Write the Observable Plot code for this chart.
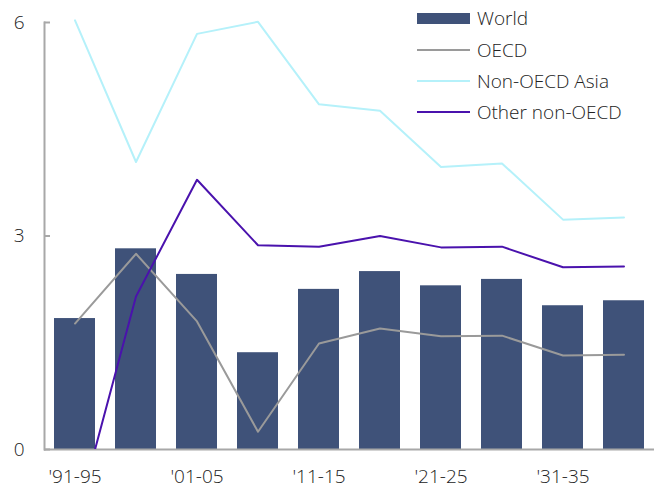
<!DOCTYPE html>
<html>
<head>
<meta charset="utf-8">
<script src="https://cdn.jsdelivr.net/npm/d3@7"></script>
<script src="https://cdn.jsdelivr.net/npm/@observablehq/plot@0.6"></script>
<style>
  html, body { margin: 0; padding: 0; background: #fff; }
  #wrap { position: relative; width: 654px; height: 488px; font-family: "Open Sans", "Noto Sans", sans-serif; font-weight: 300; }
  #legend { position: absolute; left: 417px; top: 0; font-size: 19px; color: #222; }
  .item { position: absolute; left: 0; height: 20px; white-space: nowrap; }
  .item .sw { position: absolute; left: 0; width: 53px; }
  .item .lbl { position: absolute; left: 60px; top: -12px; line-height: 24px; }
  svg text { font-weight: 300; }
</style>
</head>
<body>
<div id="wrap"></div>
<script>
const periods = ["'91-95","'96-00","'01-05","'06-10","'11-15","'16-20","'21-25","'26-30","'31-35","'36-40"];
const shownTicks = ["'91-95","'01-05","'11-15","'21-25","'31-35"];
const world = [1.84, 2.82, 2.46, 1.36, 2.25, 2.50, 2.30, 2.39, 2.02, 2.09];
const oecd = [1.77, 2.75, 1.80, 0.25, 1.49, 1.70, 1.59, 1.60, 1.32, 1.33];
const nonOecdAsia = [6.03, 4.04, 5.84, 6.01, 4.85, 4.76, 3.97, 4.02, 3.23, 3.26];
const otherNonOecd = [-1.05, 2.15, 3.79, 2.87, 2.85, 3.00, 2.84, 2.85, 2.56, 2.57];
const yTicks = [0, 3, 6];

const seriesNames = ["World", "OECD", "Non-OECD Asia", "Other non-OECD"];
const colors = {"World": "#3f5279", "OECD": "#9a9a9a", "Non-OECD Asia": "#b5f1fa", "Other non-OECD": "#4a12ad"};

const rows = (vals) => periods.map((p, i) => ({period: p, value: vals[i]}));

const W = 654, ML = 44, MR = 0;
const frameW = W - ML - MR;

const chart = Plot.plot({
  width: W,
  height: 488,
  marginTop: 22,
  marginBottom: 39,
  marginLeft: ML,
  marginRight: MR,
  style: {fontFamily: "Open Sans, Noto Sans, sans-serif", fontSize: "19px", color: "#222", background: "#fff"},
  x: {domain: periods, paddingInner: 0.33, paddingOuter: 0.165, label: null},
  y: {domain: [0, 6], label: null},
  marks: [
    Plot.barY(rows(world), {x: "period", y: "value", fill: colors["World"]}),
    Plot.frame({anchor: "left", stroke: "#a8a8a8", strokeWidth: 2}),
    Plot.tickY(yTicks, {y: d => d, stroke: "#a8a8a8", strokeWidth: 2, insetRight: frameW - 6}),
    Plot.ruleY([0], {stroke: "#a8a8a8", strokeWidth: 2}),
    Plot.line(rows(oecd), {x: "period", y: "value", stroke: colors["OECD"], strokeWidth: 2}),
    Plot.line(rows(nonOecdAsia), {x: "period", y: "value", stroke: colors["Non-OECD Asia"], strokeWidth: 2}),
    Plot.line(rows(otherNonOecd), {x: "period", y: "value", stroke: colors["Other non-OECD"], strokeWidth: 2, clip: true}),
    Plot.axisY({ticks: yTicks, tickSize: 0, tickPadding: 20, tickFormat: d3.format("d"), fontSize: 19, label: null}),
    Plot.axisX({ticks: shownTicks, tickSize: 0, tickPadding: 20, fontSize: 19, label: null})
  ]
});

const wrap = document.getElementById("wrap");
wrap.appendChild(chart);

const legend = document.createElement("div");
legend.id = "legend";
const ys = [18, 50, 81, 112];
seriesNames.forEach((name, i) => {
  const it = document.createElement("div");
  it.className = "item";
  it.style.top = ys[i] + "px";
  const sw = document.createElement("div");
  sw.className = "sw";
  if (name === "World") {
    sw.style.height = "11px"; sw.style.top = "-5px"; sw.style.background = colors[name];
  } else {
    sw.style.height = "2px"; sw.style.top = "-1px"; sw.style.background = colors[name];
  }
  const lbl = document.createElement("div");
  lbl.className = "lbl";
  lbl.textContent = name;
  it.appendChild(sw); it.appendChild(lbl);
  legend.appendChild(it);
});
wrap.appendChild(legend);
</script>
</body>
</html>
